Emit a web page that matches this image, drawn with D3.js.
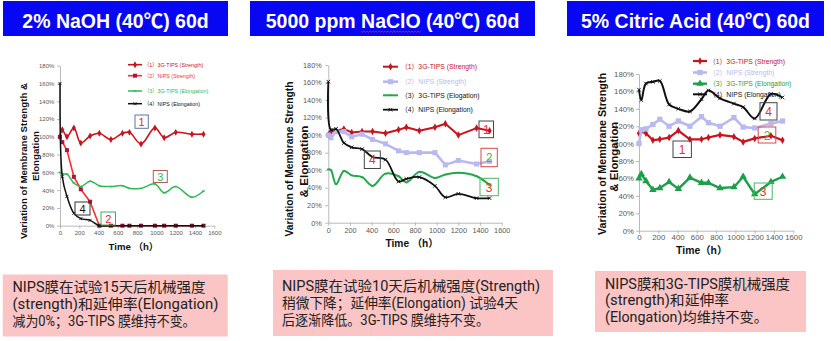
<!DOCTYPE html>
<html>
<head>
<meta charset="utf-8">
<script src="https://cdn.jsdelivr.net/npm/d3@7"></script>
<style>
  body { margin: 0; background: #fff; }
  svg { display: block; }
</style>
</head>
<body>
<svg id="chart" width="831" height="341"></svg>
<script>
// ---- sampling times (h) and axis ticks ----
const hours = [0, 24, 72, 144, 216, 312, 408, 528, 648, 720, 840, 984, 1080, 1200, 1368, 1488];
const hourTicks = [0, 200, 400, 600, 800, 1000, 1200, 1400, 1600];
const percentTicks = [0, 20, 40, 60, 80, 100, 120, 140, 160, 180];

// ---- 2% NaOH (40℃), % of initial value ----
const naohTipsStrength   = [100, 108, 100, 110, 93, 101, 104, 97, 104, 105, 92, 110, 99, 105, 103, 103];
const naohNipsStrength   = [100, 94, 85, 55, 41, 27, 0, 0, 0, 0, 0, 0, 0, 0, 0, 0];
const naohTipsElongation = [60, 58, 58, 48, 44, 50, 45, 44, 45, 42, 42, 47, 37, 44, 32, 39];
const naohNipsElongation = [160, 55, 33, 14, 8, 6, 0, 0, 0, 0, 0, 0, 0, 0, 0, 0];

// ---- 5000 ppm NaClO (40℃) ----
const naclTipsStrength   = [100, 104, 105, 107, 103, 104, 104, 102, 106, 109, 105, 109, 113, 100, 108, 105];
const naclNipsStrength   = [100, 97, 104, 104, 98, 101, 95, 90, 82, 80, 80, 80, 66, 71, 67, 70];
const naclTipsElongation = [61, 60, 44, 59, 54, 52, 42, 56, 53, 46, 58, 51, 55, 57, 53, 43];
const naclNipsElongation = [161, 106, 107, 91, 86, 84, 75, 72, 47, 50, 52, 42, 29, 33, 28, 28];

// ---- 5% Citric Acid (40℃) ----
const citrTipsStrength   = [112, 114, 112, 104, 105, 107, 115, 105, 105, 107, 110, 108, 102, 106, 109, 104];
const citrNipsStrength   = [100, 116, 117, 122, 128, 120, 126, 120, 131, 124, 120, 130, 119, 118, 123, 126];
const citrTipsElongation = [60, 65, 57, 47, 49, 56, 48, 61, 55, 55, 49, 50, 62, 42, 56, 62];
const citrNipsElongation = [162, 150, 169, 171, 172, 145, 140, 137, 151, 161, 152, 146, 142, 129, 157, 153];

const svg = d3.select("#chart");
const SANS = "'Liberation Sans', Arial, 'Noto Sans CJK SC', sans-serif";
const NOTE = "Roboto, 'Noto Sans CJK SC', 'Noto Sans CJK JP', sans-serif";

// ---- header boxes ----
function header(x0, x1, label, squiggleWord) {
  svg.append("rect").attr("x", x0).attr("y", 1).attr("width", x1 - x0).attr("height", 35)
    .attr("fill", "#0707f4");
  const t = svg.append("text").attr("x", (x0 + x1) / 2).attr("y", 27.5)
    .attr("text-anchor", "middle").attr("fill", "#fff")
    .attr("font-family", SANS).attr("font-weight", "bold").attr("font-size", 19.5)
    .text(label);
  if (squiggleWord) {
    const i = label.indexOf(squiggleWord);
    const node = t.node();
    const sx = node.getStartPositionOfChar(i).x;
    const ex = node.getEndPositionOfChar(i + squiggleWord.length - 1).x;
    let d = `M${sx},31`;
    for (let px = sx, k = 0; px < ex; px += 1.5, k++) d += `L${px + 1.5},${k % 2 ? 31 : 32.3}`;
    svg.append("path").attr("d", d).attr("fill", "none").attr("stroke", "#e03030").attr("stroke-width", 0.7);
  }
}
header(3, 228, "2% NaOH (40℃) 60d");
header(250, 535, "5000 ppm NaClO (40℃) 60d", "NaClO");
header(567, 824, "5% Citric Acid (40℃) 60d");

// ---- note boxes ----
function note(x0, y0, x1, y1, tx, baselines, lines, widths) {
  svg.append("rect").attr("x", x0).attr("y", y0).attr("width", x1 - x0).attr("height", y1 - y0)
    .attr("fill", "#fbc5c5");
  lines.forEach((s, i) => {
    svg.append("text").attr("x", tx).attr("y", baselines[i])
      .attr("font-family", NOTE).attr("font-size", 14.2).attr("fill", "#222")
      .attr("textLength", widths[i]).attr("lengthAdjust", "spacingAndGlyphs").text(s);
  });
}
note(2.7, 274.5, 227.7, 336.5, 12.5, [292, 309, 326],
  ["NIPS膜在试验15天后机械强度", "(strength)和延伸率(Elongation)", "减为0%；3G-TIPS 膜维持不变。"],
  [193, 206, 183]);
note(273, 270, 553, 336, 282, [291, 308, 324.5],
  ["NIPS膜在试验10天后机械强度(Strength)", "稍微下降；延伸率(Elongation) 试验4天", "后逐渐降低。3G-TIPS 膜维持不变。"],
  [258, 236, 207]);
note(595, 271, 806, 332, 605, [288.6, 305.3, 322],
  ["NIPS膜和3G-TIPS膜机械强度", "(strength)和延伸率", "(Elongation)均维持不变。"],
  [185, 124, 163]);

// ---- marker drawing ----
function marker(g, type, cx, cy, color, size) {
  if (type === "x") {
    const s = size;
    g.append("path").attr("d", `M${cx - s},${cy - s}L${cx + s},${cy + s}M${cx - s},${cy + s}L${cx + s},${cy - s}`)
      .attr("stroke", color).attr("stroke-width", 0.9).attr("fill", "none");
  } else if (type === "dash") {
    g.append("path").attr("d", `M${cx - size},${cy}L${cx + size},${cy}`)
      .attr("stroke", color).attr("stroke-width", 1.4);
  } else {
    const sym = { diamond: d3.symbolDiamond, square: d3.symbolSquare, triangle: d3.symbolTriangle }[type];
    g.append("path").attr("d", d3.symbol().type(sym).size(size)())
      .attr("transform", `translate(${cx},${cy})`).attr("fill", color);
  }
}

// ---- one panel ----
function panel(p) {
  const g = svg.append("g");
  const x = d3.scaleLinear().domain([0, 1600]).range([p.left, p.right]);
  const y = d3.scaleLinear().domain([0, 180]).range([p.bottom, p.top]);

  const gx = g.append("g").attr("transform", `translate(0,${p.bottom})`)
    .call(d3.axisBottom(x).tickValues(hourTicks).tickFormat(d => String(d))
      .tickSize(3).tickSizeOuter(0).tickPadding(p.xPad));
  const gy = g.append("g").attr("transform", `translate(${p.left},0)`)
    .call(d3.axisLeft(y).tickValues(percentTicks).tickFormat(d => d + "%")
      .tickSize(3).tickSizeOuter(0).tickPadding(p.yPad));
  [gx, gy].forEach(a => {
    a.selectAll("path,line").attr("stroke", "#a8a8a8").attr("stroke-width", 0.8);
    a.selectAll("text").attr("fill", "#595959").attr("font-family", SANS).attr("font-size", p.tickFont);
  });

  // axis titles
  g.append("text").attr("x", p.xTitle[0]).attr("y", p.xTitle[1]).attr("text-anchor", "middle")
    .attr("dominant-baseline", "central").attr("font-family", SANS).attr("font-weight", "bold")
    .attr("font-size", p.titleFont).attr("fill", "#111").text(p.xTitleText);
  p.yTitle.forEach(t => {
    g.append("text").attr("transform", `translate(${t.x},${t.y}) rotate(-90)`)
      .attr("text-anchor", "middle").attr("dominant-baseline", "central")
      .attr("font-family", SANS).attr("font-weight", "bold").attr("font-size", p.titleFont)
      .attr("fill", "#111").attr("textLength", t.len).attr("lengthAdjust", "spacingAndGlyphs")
      .text(t.text);
  });

  // series lines and markers
  p.series.forEach(s => {
    const pts = hours.map((h, i) => [h, s.values[i]]);
    const line = d3.line().x(d => x(d[0])).y(d => y(d[1]))
      .curve(s.smooth ? d3.curveCatmullRom.alpha(0.5) : d3.curveLinear);
    g.append("path").attr("d", line(pts)).attr("fill", "none")
      .attr("stroke", s.color).attr("stroke-width", s.width).attr("stroke-linejoin", "round");
    pts.forEach(d => marker(g, s.marker, x(d[0]), y(d[1]), s.markerColor || s.color, s.msize));
  });

  // legend
  p.series.forEach((s, i) => {
    const ly = p.legend.rows[i];
    g.append("line").attr("x1", p.legend.x0).attr("x2", p.legend.x1).attr("y1", ly).attr("y2", ly)
      .attr("stroke", s.color).attr("stroke-width", s.width);
    marker(g, s.marker, (p.legend.x0 + p.legend.x1) / 2, ly, s.markerColor || s.color, s.msize);
    g.append("text").attr("x", p.legend.tx).attr("y", ly).attr("dominant-baseline", "central")
      .attr("font-family", SANS).attr("font-size", p.legend.font).attr("fill", s.textColor)
      .text(s.label);
  });

  // numbered call-outs
  p.callouts.forEach(c => {
    g.append("rect").attr("x", c.x).attr("y", c.y).attr("width", c.w).attr("height", c.h)
      .attr("fill", "none").attr("stroke", c.border).attr("stroke-width", 1);
    g.append("text").attr("x", c.x + c.w / 2).attr("y", c.y + c.h / 2 + 0.5)
      .attr("text-anchor", "middle").attr("dominant-baseline", "central")
      .attr("font-family", SANS).attr("font-size", c.font).attr("fill", c.color).text(c.text);
  });
}

const RED = "#c8141c", BRIGHT = "#ff2b2b", LAV = "#b9b9f2", GREEN = "#22a94a", BLACK = "#111";

panel({
  left: 60, right: 214.3, bottom: 225.7, top: 65.7,
  xPad: 2, yPad: 2.7, tickFont: 6, titleFont: 9.6,
  xTitle: [133.5, 246], xTitleText: "Time （h）",
  yTitle: [{ x: 23.5, y: 161, text: "Variation of Membrane Strength &", len: 156 },
           { x: 35, y: 156, text: "Elongation", len: 50 }],
  series: [
    { values: naohTipsStrength, label: "（1）3G-TIPS (Strength)", color: RED, width: 1.6, marker: "diamond", msize: 14, smooth: true, textColor: RED },
    { values: naohNipsStrength, label: "（2）NIPS (Strength)", color: BRIGHT, markerColor: "#b3123a", width: 1.6, marker: "square", msize: 16, smooth: false, textColor: BRIGHT },
    { values: naohTipsElongation, label: "（3）3G-TIPS (Elongation)", color: "#2fba52", width: 1.5, marker: "dash", msize: 1.3, smooth: true, textColor: "#2fba52" },
    { values: naohNipsElongation, label: "（4）NIPS (Elongation)", color: BLACK, width: 1.5, marker: "x", msize: 1.5, smooth: true, textColor: BLACK }
  ],
  legend: { x0: 128, x1: 142, tx: 144, font: 5.3, rows: [64.7, 75.7, 91, 103.7] },
  callouts: [
    { text: "1", x: 135, y: 115, w: 13.3, h: 13.3, border: "#5b78a8", color: "#e02828", font: 11 },
    { text: "3", x: 153.3, y: 170.5, w: 14, h: 12, border: "#b45a5a", color: "#2fba52", font: 11 },
    { text: "4", x: 75, y: 202, w: 15, h: 13, border: "#333", color: "#111", font: 11 },
    { text: "2", x: 101, y: 212, w: 14.5, h: 13, border: "#3caf5a", color: "#e02828", font: 11 }
  ]
});

panel({
  left: 328.3, right: 501.7, bottom: 222.7, top: 65,
  xPad: 2.6, yPad: 3.6, tickFont: 7.3, titleFont: 10.2,
  xTitle: [412, 243.3], xTitleText: "Time （h）",
  yTitle: [{ x: 289.5, y: 159, text: "Variation of Membrane Strength", len: 155 },
           { x: 304, y: 161.5, text: "& Elongation", len: 72 }],
  series: [
    { values: naclTipsStrength, label: "（1）3G-TIPS (Strength)", color: RED, width: 2, marker: "diamond", msize: 16, smooth: false, textColor: RED },
    { values: naclNipsStrength, label: "（2）NIPS (Strength)", color: LAV, width: 2.6, marker: "square", msize: 26, smooth: false, textColor: LAV },
    { values: naclTipsElongation, label: "（3）3G-TIPS (Elogation)", color: GREEN, width: 2, marker: "dash", msize: 1.4, smooth: true, textColor: BLACK },
    { values: naclNipsElongation, label: "（4）NIPS (Elongation)", color: BLACK, width: 1.8, marker: "x", msize: 1.8, smooth: true, textColor: BLACK }
  ],
  legend: { x0: 383, x1: 398, tx: 401, font: 6.8, rows: [66.7, 81.7, 95.3, 109.7] },
  callouts: [
    { text: "1", x: 479, y: 121, w: 14.5, h: 16.7, border: "#444", color: "#e83232", font: 12 },
    { text: "2", x: 481, y: 148.3, w: 16.3, h: 18.4, border: "#d84848", color: "#3cb55a", font: 12 },
    { text: "3", x: 480, y: 178.3, w: 18.3, h: 17.4, border: "#4cb866", color: "#e83232", font: 12 },
    { text: "4", x: 364.3, y: 151, w: 16, h: 17.5, border: "#444", color: "#e83232", font: 12 }
  ]
});

panel({
  left: 639, right: 793.3, bottom: 230.7, top: 74,
  xPad: 1, yPad: 2, tickFont: 7.8, titleFont: 10.4,
  xTitle: [701.7, 250.7], xTitleText: "Time（h）",
  yTitle: [{ x: 602.7, y: 154, text: "Variation of Membrane Strength", len: 162 },
           { x: 614.3, y: 156.7, text: "& Elongation", len: 70 }],
  series: [
    { values: citrTipsStrength, label: "（1）3G-TIPS (Strength)", color: RED, width: 2.2, marker: "diamond", msize: 16, smooth: false, textColor: RED },
    { values: citrNipsStrength, label: "（2）NIPS (Strength)", color: LAV, width: 2.6, marker: "square", msize: 28, smooth: false, textColor: LAV },
    { values: citrTipsElongation, label: "（3）3G-TIPS (Elongation)", color: "#1c9f48", width: 2.4, marker: "triangle", msize: 24, smooth: false, textColor: "#1c9f48" },
    { values: citrNipsElongation, label: "（4）NIPS (Elongation)", color: BLACK, width: 2, marker: "x", msize: 1.8, smooth: true, textColor: BLACK }
  ],
  legend: { x0: 693, x1: 707, tx: 709, font: 6.8, rows: [61, 72.5, 83.7, 94.3] },
  callouts: [
    { text: "4", x: 760, y: 102.7, w: 17, h: 17.3, border: "#444", color: "#e83232", font: 12 },
    { text: "2", x: 758.2, y: 127, w: 17.6, h: 16, border: "#d84848", color: "#3cb55a", font: 12 },
    { text: "1", x: 673, y: 141, w: 18.4, h: 16.5, border: "#444", color: "#e83232", font: 12 },
    { text: "3", x: 754.2, y: 183, w: 18, h: 16.3, border: "#4cb866", color: "#e83232", font: 12 }
  ]
});
</script>
</body>
</html>
